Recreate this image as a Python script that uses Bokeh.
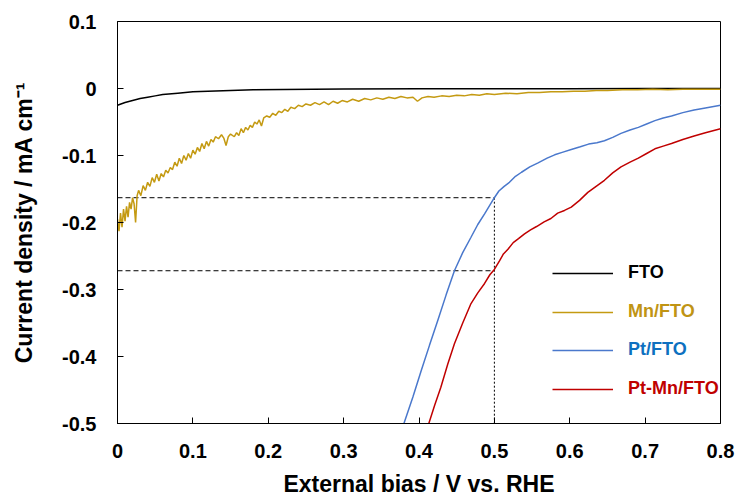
from bokeh.plotting import figure
from bokeh.models import Range1d, FixedTicker, Legend, LegendItem
from bokeh.embed import file_html
from bokeh.resources import INLINE

# ---- data ----
x_ticks = [0, 0.1, 0.2, 0.3, 0.4, 0.5, 0.6, 0.7, 0.8]
x_tick_labels = ["0", "0.1", "0.2", "0.3", "0.4", "0.5", "0.6", "0.7", "0.8"]
y_ticks = [0.1, 0, -0.1, -0.2, -0.3, -0.4, -0.5]
y_tick_labels = ["0.1", "0", "-0.1", "-0.2", "-0.3", "-0.4", "-0.5"]

fto_v = [0, 0.01, 0.02, 0.03, 0.04, 0.05, 0.06, 0.08, 0.10, 0.12, 0.15, 0.18,
         0.22, 0.26, 0.3, 0.4, 0.5, 0.6, 0.7, 0.8]
fto_j = [-0.025, -0.021, -0.018, -0.015, -0.013, -0.011, -0.009, -0.007, -0.005,
         -0.004, -0.003, -0.002, -0.0015, -0.001, -0.0008, -0.0005, -0.0003,
         -0.0002, -0.0001, -0.0001]

mn_v = [0.000, 0.002, 0.004, 0.006, 0.008, 0.010, 0.012, 0.014, 0.016, 0.018,
        0.020, 0.022, 0.024, 0.026, 0.028, 0.031, 0.034, 0.037, 0.040, 0.043,
        0.046, 0.049, 0.052, 0.055, 0.058, 0.061, 0.064, 0.067, 0.070, 0.073,
        0.076, 0.079, 0.082, 0.085, 0.088, 0.091, 0.094, 0.097, 0.100, 0.103,
        0.106, 0.109, 0.112, 0.115, 0.118, 0.121, 0.124, 0.127, 0.130, 0.134,
        0.138, 0.141, 0.144, 0.147, 0.150, 0.155, 0.158, 0.161, 0.164, 0.167,
        0.170, 0.173, 0.176, 0.179, 0.182, 0.185, 0.188, 0.191, 0.194, 0.198,
        0.202, 0.206, 0.210, 0.214, 0.218, 0.222, 0.226, 0.230, 0.235, 0.240,
        0.245, 0.250, 0.256, 0.262, 0.268, 0.274, 0.280, 0.286, 0.292, 0.298,
        0.305, 0.312, 0.320, 0.328, 0.336, 0.344, 0.352, 0.360, 0.368, 0.376,
        0.384, 0.392, 0.398, 0.404, 0.412, 0.420, 0.430, 0.440, 0.450, 0.460,
        0.470, 0.480, 0.490, 0.500, 0.515, 0.530, 0.545, 0.560, 0.575, 0.590,
        0.605, 0.620, 0.635, 0.650, 0.670, 0.690, 0.710, 0.730, 0.750, 0.770,
        0.800]
mn_j = [-0.195, -0.213, -0.186, -0.207, -0.180, -0.198, -0.176, -0.192, -0.170, -0.180,
        -0.163, -0.172, -0.200, -0.160, -0.152, -0.160, -0.145, -0.152, -0.140, -0.146,
        -0.133, -0.140, -0.128, -0.138, -0.127, -0.132, -0.122, -0.126, -0.118, -0.121,
        -0.110, -0.116, -0.104, -0.112, -0.100, -0.107, -0.097, -0.104, -0.092, -0.098,
        -0.088, -0.094, -0.082, -0.090, -0.079, -0.086, -0.076, -0.080, -0.072, -0.075,
        -0.069, -0.074, -0.085, -0.072, -0.068, -0.072, -0.066, -0.070, -0.060, -0.066,
        -0.058, -0.062, -0.055, -0.058, -0.050, -0.053, -0.047, -0.056, -0.044, -0.041,
        -0.043, -0.037, -0.040, -0.034, -0.036, -0.031, -0.034, -0.028, -0.030, -0.025,
        -0.027, -0.023, -0.025, -0.021, -0.024, -0.020, -0.024, -0.019, -0.022, -0.018,
        -0.020, -0.016, -0.019, -0.015, -0.017, -0.014, -0.016, -0.013, -0.015, -0.012,
        -0.014, -0.013, -0.019, -0.014, -0.012, -0.013, -0.011, -0.012, -0.010, -0.011,
        -0.009, -0.010, -0.008, -0.009, -0.007, -0.008, -0.006, -0.006, -0.005, -0.005,
        -0.004, -0.004, -0.003, -0.003, -0.002, -0.002, -0.001, -0.002, -0.001, -0.001,
        -0.001]

pt_v = [0.370, 0.380, 0.392, 0.403, 0.414, 0.425, 0.436, 0.447, 0.458, 0.469,
        0.478, 0.487, 0.494, 0.500, 0.506, 0.513, 0.520, 0.528, 0.536, 0.547,
        0.558, 0.570, 0.580, 0.591, 0.602, 0.614, 0.625, 0.636, 0.646, 0.657,
        0.668, 0.680, 0.691, 0.702, 0.713, 0.724, 0.735, 0.750, 0.765, 0.780,
        0.800]
pt_j = [-0.530, -0.500, -0.460, -0.421, -0.383, -0.346, -0.308, -0.272, -0.245, -0.222,
        -0.203, -0.187, -0.174, -0.163, -0.153, -0.146, -0.140, -0.131, -0.125, -0.117,
        -0.111, -0.104, -0.099, -0.095, -0.091, -0.087, -0.083, -0.081, -0.078, -0.073,
        -0.067, -0.062, -0.058, -0.053, -0.048, -0.044, -0.041, -0.036, -0.032, -0.029,
        -0.025]

ptmn_v = [0.405, 0.413, 0.421, 0.429, 0.438, 0.447, 0.458, 0.469, 0.478, 0.487,
          0.494, 0.500, 0.507, 0.512, 0.518, 0.525, 0.532, 0.540, 0.548, 0.556,
          0.566, 0.575, 0.584, 0.593, 0.602, 0.613, 0.624, 0.635, 0.646, 0.657,
          0.668, 0.680, 0.691, 0.702, 0.713, 0.724, 0.735, 0.750, 0.765, 0.780,
          0.800]
ptmn_j = [-0.530, -0.500, -0.472, -0.446, -0.412, -0.381, -0.350, -0.321, -0.305, -0.291,
          -0.278, -0.270, -0.257, -0.247, -0.240, -0.230, -0.224, -0.217, -0.211, -0.206,
          -0.199, -0.194, -0.186, -0.182, -0.177, -0.167, -0.155, -0.146, -0.137, -0.126,
          -0.117, -0.110, -0.104, -0.097, -0.090, -0.086, -0.082, -0.076, -0.071, -0.066,
          -0.060]

ref_bias = 0.5
ref_pt = -0.163
ref_ptmn = -0.272

FONT = "Liberation Sans"

p = figure(width=737, height=499, output_backend="svg", toolbar_location=None,
           x_range=Range1d(0, 0.8), y_range=Range1d(-0.5, 0.1),
           min_border_left=117, min_border_right=17, min_border_top=21,
           min_border_bottom=75)
p.xgrid.visible = False
p.ygrid.visible = False
p.outline_line_color = "black"
p.outline_line_width = 1
p.background_fill_color = "white"
p.border_fill_color = "white"

for ax in (p.xaxis[0], p.yaxis[0]):
    ax.axis_line_color = "black"
    ax.major_tick_in = 6
    ax.major_tick_out = 0
    ax.minor_tick_in = 0
    ax.minor_tick_out = 0
    ax.major_label_text_font = FONT
    ax.major_label_text_font_style = "bold"
    ax.major_label_text_font_size = "20px"
    ax.major_label_text_color = "black"
    ax.axis_label_text_font = FONT
    ax.axis_label_text_font_style = "bold"
    ax.axis_label_text_font_size = "23px"
    ax.axis_label_text_color = "black"

p.xaxis.ticker = FixedTicker(ticks=x_ticks)
p.xaxis.major_label_overrides = {t: l for t, l in zip(x_ticks, x_tick_labels)}
p.yaxis.ticker = FixedTicker(ticks=y_ticks)
p.yaxis.major_label_overrides = {t: l for t, l in zip(y_ticks, y_tick_labels)}
p.xaxis.axis_label = "External bias / V vs. RHE"
p.yaxis.axis_label = "Current density / mA cm\u207b\u00b9"
p.xaxis.major_label_standoff = 20
p.xaxis.axis_label_standoff = 10
p.yaxis.major_label_standoff = 21
p.yaxis.axis_label_standoff = 22

# reference dashed lines
p.segment(x0=[0, 0], y0=[ref_pt, ref_ptmn], x1=[ref_bias, ref_bias],
          y1=[ref_pt, ref_ptmn], line_color="black", line_width=1, line_dash="5 3")
p.segment(x0=[ref_bias], y0=[ref_pt], x1=[ref_bias], y1=[-0.5],
          line_color="black", line_width=1, line_dash="2 2")

r_fto = p.line(fto_v, fto_j, line_color="black", line_width=1.5)
r_mn = p.line(mn_v, mn_j, line_color="#C49A12", line_width=1.5)
r_pt = p.line(pt_v, pt_j, line_color="#4A78CC", line_width=1.5)
r_ptmn = p.line(ptmn_v, ptmn_j, line_color="#C00000", line_width=1.5)

entries = [("FTO", r_fto, "black", 140),
           ("Mn/FTO", r_mn, "#C09414", 101),
           ("Pt/FTO", r_pt, "#0E70C0", 63),
           ("Pt-Mn/FTO", r_ptmn, "#C00000", 24)]
for label, rend, col, yoff in entries:
    lg = Legend(items=[LegendItem(label=label, renderers=[rend])],
                location=(435, yoff), padding=0, margin=0, spacing=0,
                glyph_width=61, glyph_height=20, label_standoff=15,
                border_line_color=None, background_fill_alpha=0,
                label_text_font=FONT, label_text_font_style="bold",
                label_text_font_size="18px", label_text_color=col)
    p.add_layout(lg)

open("out.html", "w").write(file_html(p, INLINE))
